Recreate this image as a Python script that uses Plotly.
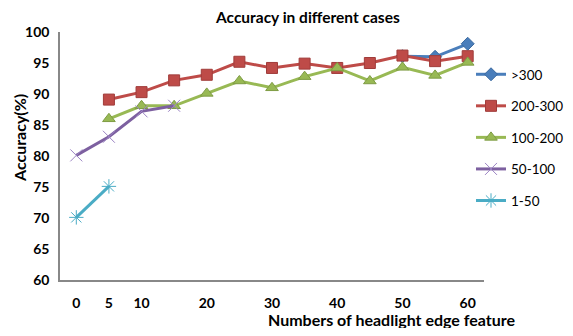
import plotly.graph_objects as go

x_vals = [0, 5, 10, 15, 20, 25, 30, 35, 40, 45, 50, 55, 60]
x_ticks = [0, 5, 10, 20, 30, 40, 50, 60]
y_ticks = [60, 65, 70, 75, 80, 85, 90, 95, 100]

s_300 = [None]*10 + [96.1, 96.0, 98.1]
s_200_300 = [None, 89.1, 90.3, 92.2, 93.1, 95.2, 94.2, 94.9, 94.2, 95.0, 96.2, 95.3, 96.1]
s_100_200 = [None, 86.0, 88.1, 88.1, 90.1, 92.1, 91.0, 92.8, 94.2, 92.1, 94.3, 93.0, 95.1]
s_50_100 = [80.1, 83.1, 87.2, 88.1] + [None]*9
s_1_50 = [70.1, 75.1] + [None]*11

names = [">300", "200-300", "100-200", "50-100", "1-50"]
series = [s_300, s_200_300, s_100_200, s_50_100, s_1_50]
colors = ["#4A7EBB", "#BE4B48", "#98B954", "#7D60A0", "#4AACC5"]
symbols = ["diamond", "square", "triangle-up", "x-thin-open", "asterisk-open"]
sizes = [10, 11, 11, 12, 12]
edge = ["#3B6AA0", "#A03C3A", "#7E9C44", "#9C84C4", "#4AACC5"]

FONT = "Lato"
# page body has an 8px margin; compensate so the chart sits where the reference does
OFF = 8
W, H = 573 - 2 * OFF, 336 - 2 * OFF
L, R, T, B = 60 - OFF, W + OFF - 484, 32 - OFF, H + OFF - 280

fig = go.Figure()
for i, (n, s) in enumerate(zip(names, series)):
    mk = dict(symbol=symbols[i], size=sizes[i], color=colors[i],
              line=dict(color=edge[i], width=1))
    if "open" in symbols[i]:
        mk = dict(symbol=symbols[i], size=sizes[i], color=edge[i],
                  line=dict(color=edge[i], width=1))
    fig.add_trace(go.Scatter(x=x_vals, y=s, name=n, mode="lines+markers",
                             line=dict(color=colors[i], width=3),
                             marker=mk, legendgroup=n, connectgaps=False))

pw, ph = W - L - R, H - T - B


def px2paper(wx, wy):
    return (wx - OFF - L) / pw, (H - B - (wy - OFF)) / ph


def ann(text, wx, wy, size, angle=0):
    x, y = px2paper(wx, wy)
    return dict(text=text, x=x, y=y, xref="paper", yref="paper", showarrow=False,
                xanchor="center", yanchor="middle", textangle=angle,
                font=dict(family=FONT, size=size, color="black", weight="bold"))


fig.update_layout(
    width=W, height=H,
    margin=dict(l=L, r=R, t=T, b=B, autoexpand=False),
    paper_bgcolor="white", plot_bgcolor="white",
    font=dict(family=FONT, size=13, color="black"),
    showlegend=True,
    legend=dict(xref="container", yref="container",
                x=(471 - OFF) / W, xanchor="left", y=1 - (59 - OFF) / H, yanchor="top",
                tracegroupgap=11, font=dict(family=FONT, size=13.5, color="black"),
                bgcolor="rgba(0,0,0,0)"),
    xaxis=dict(range=[-2.5, 62.5], tickvals=x_ticks, ticktext=[str(v) for v in x_ticks],
               showgrid=False, zeroline=False, showline=True, linecolor="#888888",
               linewidth=1.5, ticks="", ticklabelstandoff=9,
               tickfont=dict(family=FONT, size=14, color="black", weight="bold")),
    yaxis=dict(range=[60, 100], tickvals=y_ticks, showgrid=False, zeroline=False,
               showline=True, linecolor="#888888", linewidth=1.5, ticks="",
               ticklabelstandoff=6,
               tickfont=dict(family=FONT, size=14, color="black", weight="bold")),
    annotations=[
        ann("Accuracy in different cases", 307, 17, 15.5),
        ann("Numbers of headlight edge feature", 392, 319, 16),
        ann("Accuracy(%)", 19, 138, 16, angle=-90),
    ],
)

fig.write_html("out.html")
